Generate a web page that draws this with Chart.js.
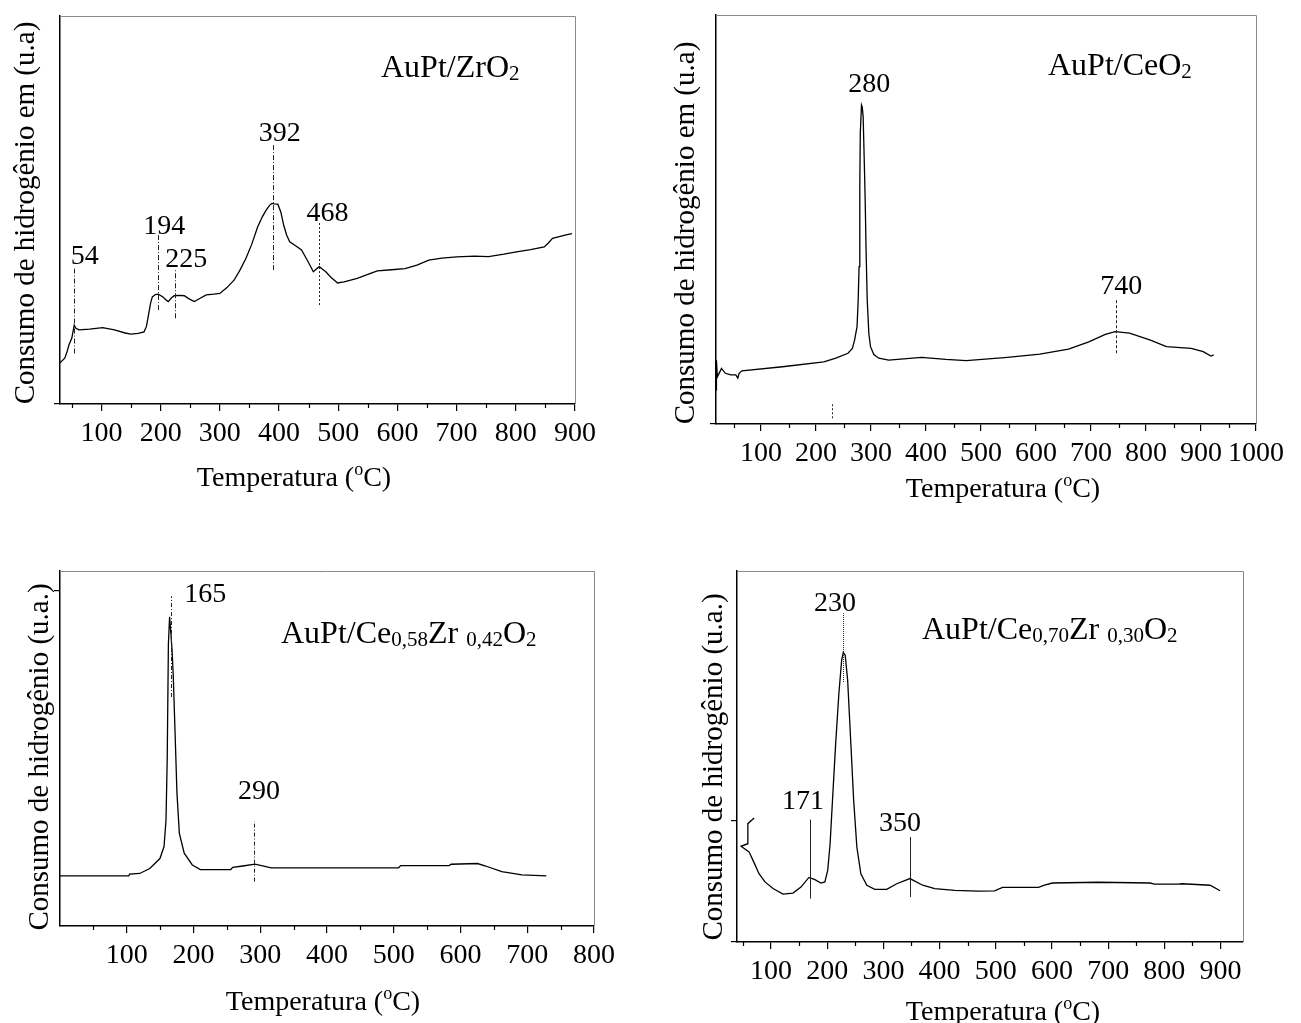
<!DOCTYPE html>
<html>
<head>
<meta charset="utf-8">
<script src="https://cdn.jsdelivr.net/npm/chart.js@4.4.1/dist/chart.umd.min.js"></script>
<style>
  html, body { margin: 0; padding: 0; background: #fff; }
  #wrap { position: relative; width: 1301px; height: 1023px; }
  canvas { position: absolute; left: 0; top: 0; pointer-events: none; }
</style>
</head>
<body>
<div id="wrap">
  <canvas id="c1" width="1301" height="1023"></canvas>
  <canvas id="c2" width="1301" height="1023"></canvas>
  <canvas id="c3" width="1301" height="1023"></canvas>
  <canvas id="c4" width="1301" height="1023"></canvas>
</div>
<script>
// --- data (signal in arbitrary units, 0-100) ---

// AuPt/ZrO2
const zrT = [30, 38, 42, 45, 50, 54, 57, 62, 80, 102, 122, 140, 150, 162, 172, 176, 179, 183, 186, 191, 196, 204, 210, 213, 218, 223, 232, 240, 248, 257, 266, 277, 290, 300, 312, 324, 334, 344, 354, 364, 372, 378, 384, 388, 392, 398, 403, 408, 413, 418, 428, 438, 448, 458, 463, 468, 473, 479, 488, 499, 510, 532, 550, 566, 590, 613, 633, 653, 675, 700, 730, 754, 780, 801, 825, 848, 855, 862, 875, 885, 895];
const zrH = [10.6, 11.8, 13.5, 15.2, 17, 20.3, 19.5, 19.1, 19.3, 19.7, 19.1, 18.3, 18, 18.2, 18.6, 20, 22.5, 26, 27.6, 28.2, 28.3, 27.6, 26.7, 26.4, 27.3, 27.9, 28, 27.9, 27.1, 26.4, 27.2, 28.1, 28.3, 28.5, 30, 31.9, 34.5, 37.5, 41.2, 45.7, 48.3, 49.9, 51.2, 51.7, 51.6, 51.5, 49.5, 46, 43.5, 41.8, 40.8, 39.7, 37, 34.1, 34.8, 35.4, 34.8, 34.1, 32.6, 31.2, 31.5, 32.4, 33.4, 34.3, 34.6, 34.9, 35.8, 37.1, 37.6, 37.9, 38.1, 38, 38.6, 39.2, 39.8, 40.5, 41.5, 42.7, 43.2, 43.6, 43.9];
const zrPeaks = [54, 194, 225, 392, 468];

// AuPt/CeO2
const ceT = [18.5, 18.8, 20.5, 24, 28, 35, 45, 54, 57.7, 60, 65, 139, 214, 236, 258, 266, 270, 274.5, 276.5, 278.2, 279.5, 280.4, 282.6, 284, 285.6, 287.5, 289.3, 291, 293, 296, 299, 305, 314, 332, 392, 436, 473, 548, 607, 659, 696, 726, 744, 770, 808, 837, 882, 904, 918, 923];
const ceH = [8.3, 15.6, 11.5, 12.5, 13.6, 12.4, 12, 12, 11.2, 12.4, 13, 14, 15.2, 16.1, 17.3, 18.5, 20.5, 23.8, 30, 38.5, 58, 71.1, 78, 77.5, 75.1, 65, 54.8, 42, 30.3, 22, 18.9, 17, 16.1, 15.6, 16.3, 15.8, 15.5, 16.3, 17.1, 18.3, 20.1, 21.9, 22.6, 22.2, 20.5, 18.9, 18.5, 17.7, 16.6, 16.9];
const cePeaks = [280, 740];

// AuPt/Ce0,58Zr0,42O2
const cz58T = [0, 103, 104.2, 119.4, 134.5, 149.7, 155.8, 158.8, 160.6, 162.4, 164.2, 166.1, 167.9, 169.7, 172.1, 175.2, 178.8, 186.1, 198.2, 210.3, 255.8, 258.8, 273.9, 292.1, 316.4, 407.3, 507.3, 510.3, 583, 586, 625.5, 637.6, 661.8, 692.1, 728.5];
const cz58H = [14.1, 14.1, 14.6, 14.8, 16.2, 19, 22.3, 29.8, 46.7, 79.5, 87.1, 82.4, 77.7, 70.2, 56.2, 37.5, 26.1, 20.5, 17.2, 15.9, 15.9, 16.5, 16.9, 17.4, 16.4, 16.4, 16.4, 17, 17, 17.4, 17.6, 16.9, 15.3, 14.4, 14.1];
const cz58Peaks = [165, 290];

// AuPt/Ce0,70Zr0,30O2
const cz70T = [70, 58.8, 58.8, 46.7, 60.9, 68, 78.7, 89.3, 103.6, 121.3, 139.1, 153.3, 167.5, 178.2, 188.8, 195.9, 200.9, 205.2, 210.1, 215.1, 220.8, 225.8, 228.6, 232.1, 236.4, 242.1, 247.1, 252.8, 259.9, 270.5, 284.7, 306, 323.8, 347.2, 370, 391.3, 426.8, 469.4, 497.9, 512.1, 576, 586.7, 600.9, 682.6, 775, 782.1, 824.7, 831.8, 881.5, 899.3];
const cz70H = [33.4, 31.9, 26.5, 25.8, 24.3, 22, 18.4, 16.2, 14.4, 12.9, 13.2, 14.8, 17.4, 16.8, 15.9, 16.2, 19.3, 26.5, 40, 53.5, 67, 76, 78, 77.3, 70.6, 53.5, 38.2, 25.6, 18.4, 15.3, 14.2, 14.2, 15.7, 17.1, 15.3, 14.4, 13.9, 13.7, 13.8, 14.7, 14.7, 15.3, 15.9, 16.1, 15.9, 15.6, 15.6, 15.7, 15.3, 13.8];
const cz70Peaks = [171, 230, 350];

// axis ticks
const zrTicks = [100, 200, 300, 400, 500, 600, 700, 800, 900];
const ceTicks = [100, 200, 300, 400, 500, 600, 700, 800, 900, 1000];
const cz58Ticks = [100, 200, 300, 400, 500, 600, 700, 800];
const cz70Ticks = [100, 200, 300, 400, 500, 600, 700, 800, 900];
const zrYTicks = [0];
const ceYTicks = [0];
const cz58YTicks = [94.4];
const cz70YTicks = [0, 32.6];

// --- drawing helpers ---
const SERIF = "'Liberation Serif', 'Times New Roman', serif";
const XAXIS_H = 50; // room kept below the plot for the tick labels

function drawRich(ctx, parts, x, y, size) {
  const fontFor = k => (k === 'n' ? size : Math.round(size * 0.66)) + 'px ' + SERIF;
  ctx.save();
  ctx.fillStyle = '#000';
  ctx.textAlign = 'left';
  ctx.textBaseline = 'alphabetic';
  let cx = x;
  parts.forEach(([t, k]) => {
    ctx.font = fontFor(k);
    const dy = k === 'sub' ? size * 0.1 : k === 'sup' ? -size * 0.4 : 0;
    ctx.fillText(t, cx, y + dy);
    cx += ctx.measureText(t).width;
  });
  ctx.restore();
}

function richWidth(ctx, parts, size) {
  let w = 0;
  ctx.save();
  parts.forEach(([t, k]) => {
    ctx.font = (k === 'n' ? size : Math.round(size * 0.66)) + 'px ' + SERIF;
    w += ctx.measureText(t).width;
  });
  ctx.restore();
  return w;
}

const xTitleParts = [['Temperatura (', 'n'], ['o', 'sup'], ['C)', 'n']];

const decor = {
  id: 'decor',
  afterDraw(chart, args, o) {
    const ctx = chart.ctx;
    const a = chart.chartArea;
    const xs = chart.scales.x, ys = chart.scales.y;
    ctx.save();
    // gray top / right frame
    ctx.strokeStyle = '#8a8a8a';
    ctx.lineWidth = 1;
    ctx.beginPath();
    ctx.moveTo(a.left, a.top + 0.5);
    ctx.lineTo(a.right + 0.5, a.top + 0.5);
    ctx.lineTo(a.right + 0.5, a.bottom);
    ctx.stroke();
    // minor x ticks
    ctx.strokeStyle = '#000';
    ctx.lineWidth = 1.2;
    o.minor.forEach(v => {
      const px = Math.round(xs.getPixelForValue(v)) + 0.5;
      ctx.beginPath();
      ctx.moveTo(px, a.bottom);
      ctx.lineTo(px, a.bottom + 4);
      ctx.stroke();
    });
    // peak markers
    o.marks.forEach((m, i) => {
      const px = Math.round(xs.getPixelForValue(m.x)) + 0.5;
      ctx.strokeStyle = '#222';
      ctx.lineWidth = 1;
      ctx.setLineDash(m.dash || []);
      ctx.beginPath();
      ctx.moveTo(px, ys.getPixelForValue(m.y1));
      ctx.lineTo(px, ys.getPixelForValue(m.y2));
      ctx.stroke();
      ctx.setLineDash([]);
      if (m.lx !== undefined) {
        ctx.fillStyle = '#000';
        ctx.font = '28px ' + SERIF;
        ctx.textAlign = 'center';
        ctx.textBaseline = 'middle';
        ctx.fillText(String(o.peaks[i]), xs.getPixelForValue(m.lx), ys.getPixelForValue(m.ly));
      }
    });
    ctx.restore();
    // panel title
    drawRich(ctx, o.title, o.titleX, o.titleY, 32);
    // x axis title
    const w = richWidth(ctx, xTitleParts, 28);
    drawRich(ctx, xTitleParts, o.xTitleX - w / 2, o.xTitleY, 28);
    // y axis title
    ctx.save();
    ctx.translate(o.yTitleX, o.yTitleY);
    ctx.rotate(-Math.PI / 2);
    ctx.fillStyle = '#000';
    ctx.font = '29px ' + SERIF;
    ctx.textAlign = 'center';
    ctx.textBaseline = 'middle';
    ctx.fillText(o.yTitle, 0, 0);
    ctx.restore();
  }
};

function makeChart(id, T, H, xMin, xMax, ticks, yTicks, area, deco) {
  const pts = T.map((t, i) => ({ x: t, y: H[i] }));
  const minor = ticks.map(v => v - 50).filter(v => v > xMin);
  return new Chart(document.getElementById(id), {
    type: 'line',
    data: {
      datasets: [{
        data: pts,
        borderColor: '#000',
        borderWidth: 1.3,
        pointRadius: 0,
        tension: 0,
        fill: false
      }]
    },
    plugins: [decor],
    options: {
      responsive: false,
      animation: false,
      events: [],
      layout: {
        padding: { left: area[0], top: area[1], right: 1301 - area[2], bottom: 1023 - area[3] - XAXIS_H }
      },
      plugins: {
        legend: { display: false },
        tooltip: { enabled: false },
        decor: Object.assign({ minor: minor }, deco)
      },
      scales: {
        x: {
          type: 'linear',
          min: xMin,
          max: xMax,
          afterBuildTicks: s => { s.ticks = ticks.map(v => ({ value: v })); },
          afterFit: s => { s.height = XAXIS_H; s.paddingLeft = 0; s.paddingRight = 0; },
          ticks: {
            autoSkip: false,
            maxRotation: 0,
            color: '#000',
            padding: 6,
            font: { family: SERIF, size: 28 },
            callback: v => String(v)
          },
          grid: { display: true, drawOnChartArea: false, drawTicks: true, tickLength: 7, color: '#000', lineWidth: 1.2 },
          border: { display: true, color: '#000', width: 1.5 }
        },
        y: {
          type: 'linear',
          min: 0,
          max: 100,
          afterBuildTicks: s => { s.ticks = yTicks.map(v => ({ value: v })); },
          afterFit: s => { s.width = 0; s.paddingTop = 0; s.paddingBottom = 0; },
          ticks: { display: false },
          grid: { display: true, drawOnChartArea: false, drawTicks: true, tickLength: 6, color: '#000', lineWidth: 1.2 },
          border: { display: true, color: '#000', width: 1.5 }
        }
      }
    }
  });
}

makeChart('c1', zrT, zrH, 30, 900, zrTicks, zrYTicks, [60, 16, 575, 404], {
  peaks: zrPeaks,
  marks: [
    { x: 53.6, y1: 13.0, y2: 35.4, lx: 71.8, ly: 37.9, dash: [5, 2, 1, 2] },
    { x: 194.8, y1: 24.2, y2: 44.0, lx: 206.2, ly: 45.7, dash: [5, 2, 1, 2] },
    { x: 224.4, y1: 22.1, y2: 34.9, lx: 243.2, ly: 37.1, dash: [5, 2, 1, 2] },
    { x: 389.1, y1: 34.5, y2: 67.1, lx: 401.2, ly: 69.7, dash: [5, 2, 1, 2] },
    { x: 467.7, y1: 25.5, y2: 47.0, lx: 481.9, ly: 49.1, dash: [2, 2] }
  ],
  title: [['AuPt/ZrO', 'n'], ['2', 'sub']], titleX: 381, titleY: 77,
  xTitleX: 294, xTitleY: 486,
  yTitle: 'Consumo de hidrogênio em (u.a)', yTitleX: 26, yTitleY: 213
});

makeChart('c2', ceT, ceH, 18, 1000, ceTicks, ceYTicks, [716, 15, 1256, 424], {
  peaks: cePeaks.concat(['']),
  marks: [
    { x: 280, y1: 78, y2: 78, lx: 296.6, ly: 82.9 },
    { x: 745.4, y1: 17.3, y2: 30.7, lx: 755, ly: 33.6, dash: [3, 2] },
    { x: 229.8, y1: 1.4, y2: 5.1, dash: [2, 2] }
  ],
  title: [['AuPt/CeO', 'n'], ['2', 'sub']], titleX: 1048, titleY: 75,
  xTitleX: 1003, xTitleY: 497,
  yTitle: 'Consumo de hidrogênio em (u.a)', yTitleX: 686, yTitleY: 233
});

makeChart('c3', cz58T, cz58H, 0, 800, cz58Ticks, cz58YTicks, [60, 571, 594, 926], {
  peaks: cz58Peaks,
  marks: [
    { x: 166.1, y1: 64.5, y2: 92.9, lx: 217.6, ly: 93.2, dash: [4, 2, 1, 2] },
    { x: 290.9, y1: 12.5, y2: 29.5, lx: 298.2, ly: 37.8, dash: [4, 2, 1, 2] }
  ],
  title: [['AuPt/Ce', 'n'], ['0,58', 'sub'], ['Zr ', 'n'], ['0,42', 'sub'], ['O', 'n'], ['2', 'sub']],
  titleX: 281, titleY: 643,
  xTitleX: 323, xTitleY: 1010,
  yTitle: 'Consumo de hidrogênio (u.a.)', yTitleX: 40, yTitleY: 757
});

makeChart('c4', cz70T, cz70H, 39.5, 940, cz70Ticks, cz70YTicks, [737, 571, 1243, 942], {
  peaks: cz70Peaks,
  marks: [
    { x: 168.9, y1: 11.7, y2: 33.0, lx: 156.8, ly: 37.8 },
    { x: 227.9, y1: 70.1, y2: 88.6, lx: 213.7, ly: 91.3, dash: [1, 1] },
    { x: 347.2, y1: 12.1, y2: 28.3, lx: 329.5, ly: 31.9 }
  ],
  title: [['AuPt/Ce', 'n'], ['0,70', 'sub'], ['Zr ', 'n'], ['0,30', 'sub'], ['O', 'n'], ['2', 'sub']],
  titleX: 922, titleY: 639,
  xTitleX: 1003, xTitleY: 1020,
  yTitle: 'Consumo de hidrogênio (u.a.)', yTitleX: 714, yTitleY: 767
});
</script>
</body>
</html>
